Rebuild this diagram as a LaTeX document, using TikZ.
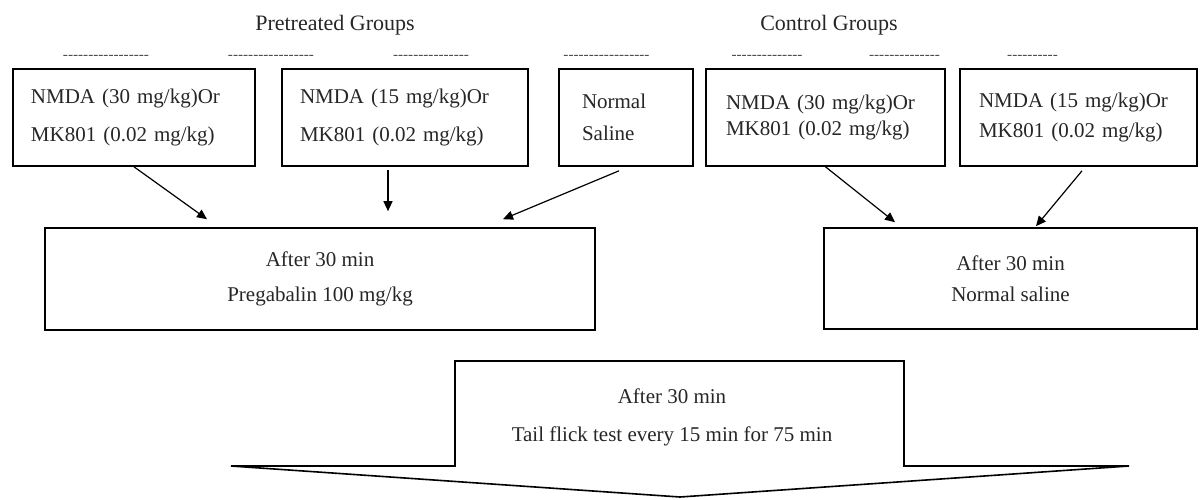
\documentclass[tikz,border=0pt]{standalone}
\usepackage{fontspec}
\setmainfont{Liberation Serif}
\usepackage{tikz}
\usetikzlibrary{arrows.meta}

\newcommand{\dashrun}[1]{\foreach \i in {1,...,#1}{-\kern0pt}}

\begin{document}
\begin{tikzpicture}[
    x=0.5pt, y=-0.5pt,
    font=\fontsize{10.5}{12.6}\selectfont, text=black!85,
    block/.style={draw=black, line width=0.8pt, rectangle, minimum height=48.5pt, align=left, inner xsep=9pt},
    wide/.style={draw=black, line width=0.8pt, rectangle, align=center},
    line/.style={-{Triangle[length=5pt,width=4.5pt]}, line width=0.6pt},
    dashes/.style={font=\fontsize{7.6}{9}\selectfont, inner sep=0pt, text=black!70}
]
\useasboundingbox (0,0) rectangle (1200,499);

\node[font=\fontsize{11}{13}\selectfont] (pre) at (335,25) {Pretreated Groups};
\node[font=\fontsize{11}{13}\selectfont] (ctl) at (829,25) {Control Groups};

\node[dashes] (d1) at (106,57) {\dashrun{17}};
\node[dashes] (d2) at (271,57) {\dashrun{17}};
\node[dashes] (d3) at (431,57) {\dashrun{15}};
\node[dashes] (d4) at (606.5,57) {\dashrun{17}};
\node[dashes] (d5) at (767,57) {\dashrun{14}};
\node[dashes] (d6) at (904.5,57) {\dashrun{14}};
\node[dashes] (d7) at (1032.5,57) {\dashrun{10}};

\node[block, text width=103pt] (nmda30) at (134,117.5) {NMDA (30 mg/kg)Or\\[6pt]MK801 (0.02 mg/kg)};
\node[block, text width=105pt] (nmda15) at (405,117.5) {NMDA (15 mg/kg)Or\\[6pt]MK801 (0.02 mg/kg)};
\node[block, text width=44pt, inner xsep=11.5pt] (saline) at (626,117.5) {Normal\\[3.4pt]Saline};
\node[block, text width=99.5pt, inner xsep=10pt] (ctl30) at (825.5,117.5) {NMDA (30 mg/kg)Or\\[0.4pt]MK801 (0.02 mg/kg)};
\node[block, text width=99.5pt, inner xsep=9.5pt] (ctl15) at (1078.5,117.5) {NMDA (15 mg/kg)Or\\[2.4pt]MK801 (0.02 mg/kg)};

\node[wide, minimum width=275pt, minimum height=51pt] (preg) at (320,279) {After 30 min\\[4.9pt]Pregabalin 100 mg/kg};
\node[wide, minimum width=186.5pt, minimum height=50.5pt] (ctlsal) at (1010.5,278.5) {After 30 min\\[2.9pt]Normal saline};

\draw[line] (nmda30.south) -- ([xshift=-56.5pt,yshift=4pt]preg.north);
\draw[line] ([xshift=-8.5pt,yshift=-1.5pt]nmda15.south) -- ([xshift=34pt,yshift=8pt]preg.north);
\draw[line] ([xshift=-3.5pt,yshift=-2pt]saline.south) -- ([xshift=91.5pt,yshift=4pt]preg.north);
\draw[line] (ctl30.south) -- ([xshift=-57.75pt,yshift=2.5pt]ctlsal.north);
\draw[line] ([xshift=1.75pt,yshift=-2pt]ctl15.south) -- ([xshift=12.75pt,yshift=0.5pt]ctlsal.north);

% big arrow to the test
\draw[line width=0.8pt] (455,466) -- (455,361) -- (904,361) -- (904,466) -- (1129,466) -- (680,497) -- (231,466) -- cycle;
\node[align=center] (test) at (672,417) {After 30 min\\[6.4pt]Tail flick test every 15 min for 75 min};

\end{tikzpicture}
\end{document}
